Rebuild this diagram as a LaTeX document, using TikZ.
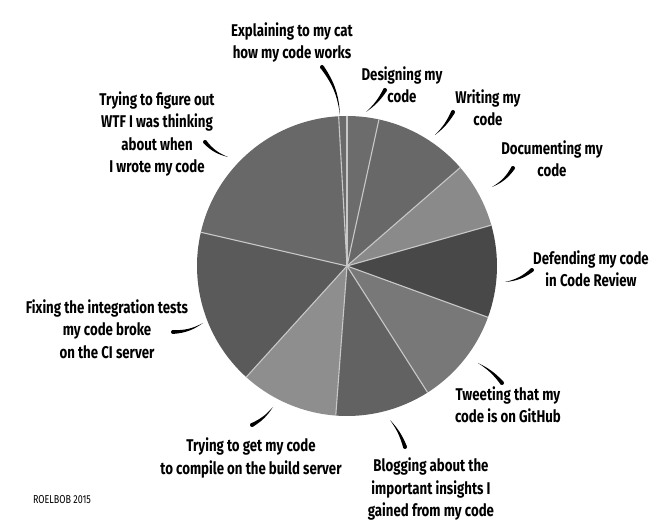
\documentclass[tikz,border=0pt]{standalone}
\usepackage{fontspec}
\setmainfont{Fira Sans}[FakeStretch=0.78]
\usetikzlibrary{calc}
\definecolor{sepgray}{HTML}{C8C8C8}
\definecolor{cDefend}{HTML}{484848}
\definecolor{cDocument}{HTML}{8A8A8A}
\definecolor{cWrite}{HTML}{686868}
\definecolor{cDesign}{HTML}{6C6C6C}
\definecolor{cExplain}{HTML}{6A6A6A}
\definecolor{cFigure}{HTML}{686868}
\definecolor{cFix}{HTML}{5A5A5A}
\definecolor{cCompile}{HTML}{8E8E8E}
\definecolor{cBlog}{HTML}{626262}
\definecolor{cTweet}{HTML}{787878}
\tikzset{
  lbl/.style={align=center, inner sep=0pt, font=\fontsize{17}{22.5}\selectfont\bfseries},
  sep/.style={draw=sepgray, line width=1.1pt},
}
\newcommand\quill[3]{%
  \fill ($(#1)!2pt!90:(#2)$) to[bend left=#3] (#2) to[bend right=#3] ($(#1)!2pt!-90:(#2)$) -- cycle;
  \fill (#1) circle (2pt);
}
\begin{document}
\begin{tikzpicture}[x=1pt,y=1pt]
  \useasboundingbox (0,0) rectangle (666,530);
  \coordinate (pc) at (347,264);
  \foreach \a/\b/\c in {-20/15.8/cDefend, 15.8/41/cDocument, 41/77.7/cWrite, 77.7/90/cDesign,
      90/93.2/cExplain, 93.2/167/cFigure, 167/227.8/cFix, 227.8/265.7/cCompile,
      265.7/302.5/cBlog, 302.5/340/cTweet}
    \fill[\c] (pc) -- ++(\a:150pt) arc[start angle=\a, end angle=\b, radius=150pt] -- cycle;
  \foreach \a in {-20,15.8,41,77.7,90,93.2,167,227.8,265.7,302.5}
    \draw[sep] (pc) -- ++(\a:150pt);

  \node[lbl] (explain) at (292,487.5) {Explaining to my cat\\how my code works};
  \node[lbl] (figure) at (157,396) {Trying to figure out\\WTF I was thinking\\about when\\I wrote my code};
  \node[lbl] (design) at (402,445) {Designing my\\code};
  \node[lbl] (write) at (488,422) {Writing my\\code};
  \node[lbl] (document) at (552,371) {Documenting my\\code};
  \node[lbl] (defend) at (591,261) {Defending my code\\in Code Review};
  \node[lbl] (tweet) at (508,125) {Tweeting that my\\code is on GitHub};
  \node[lbl] (fix) at (107,201) {Fixing the integration tests\\my code broke\\on the CI server};
  \node[lbl] (compile) at (251,72) {Trying to get my code\\to compile on the build server};
  \node[lbl] (blog) at (431,41) {Blogging about the\\important insights I\\gained from my code};
  \node[font=\fontsize{11.5}{12}\selectfont, inner sep=0pt] (sign) at (62,30) {ROELBOB 2015};

  \coordinate (explainT) at (322,463); \coordinate (explainP) at (340,415);
  \coordinate (designT) at (385,440); \coordinate (designP) at (366,418);
  \coordinate (writeT) at (453,418); \coordinate (writeP) at (435,395);
  \coordinate (documentT) at (513,362); \coordinate (documentP) at (492,343);
  \coordinate (defendT) at (532,260); \coordinate (defendP) at (505,248);
  \coordinate (tweetT) at (502,147); \coordinate (tweetP) at (478,167);
  \coordinate (blogT) at (405,83); \coordinate (blogP) at (390,110);
  \coordinate (compileT) at (252,105); \coordinate (compileP) at (273,123);
  \coordinate (fixT) at (173,198); \coordinate (fixP) at (203,207);
  \coordinate (figureT) at (205,388); \coordinate (figureP) at (228,373);
  \quill{explainT}{explainP}{15}
  \quill{designT}{designP}{10}
  \quill{writeT}{writeP}{10}
  \quill{documentT}{documentP}{15}
  \quill{defendT}{defendP}{15}
  \quill{tweetT}{tweetP}{-10}
  \quill{blogT}{blogP}{-10}
  \quill{compileT}{compileP}{-12}
  \quill{fixT}{fixP}{-15}
  \quill{figureT}{figureP}{-15}
\end{tikzpicture}
\end{document}
